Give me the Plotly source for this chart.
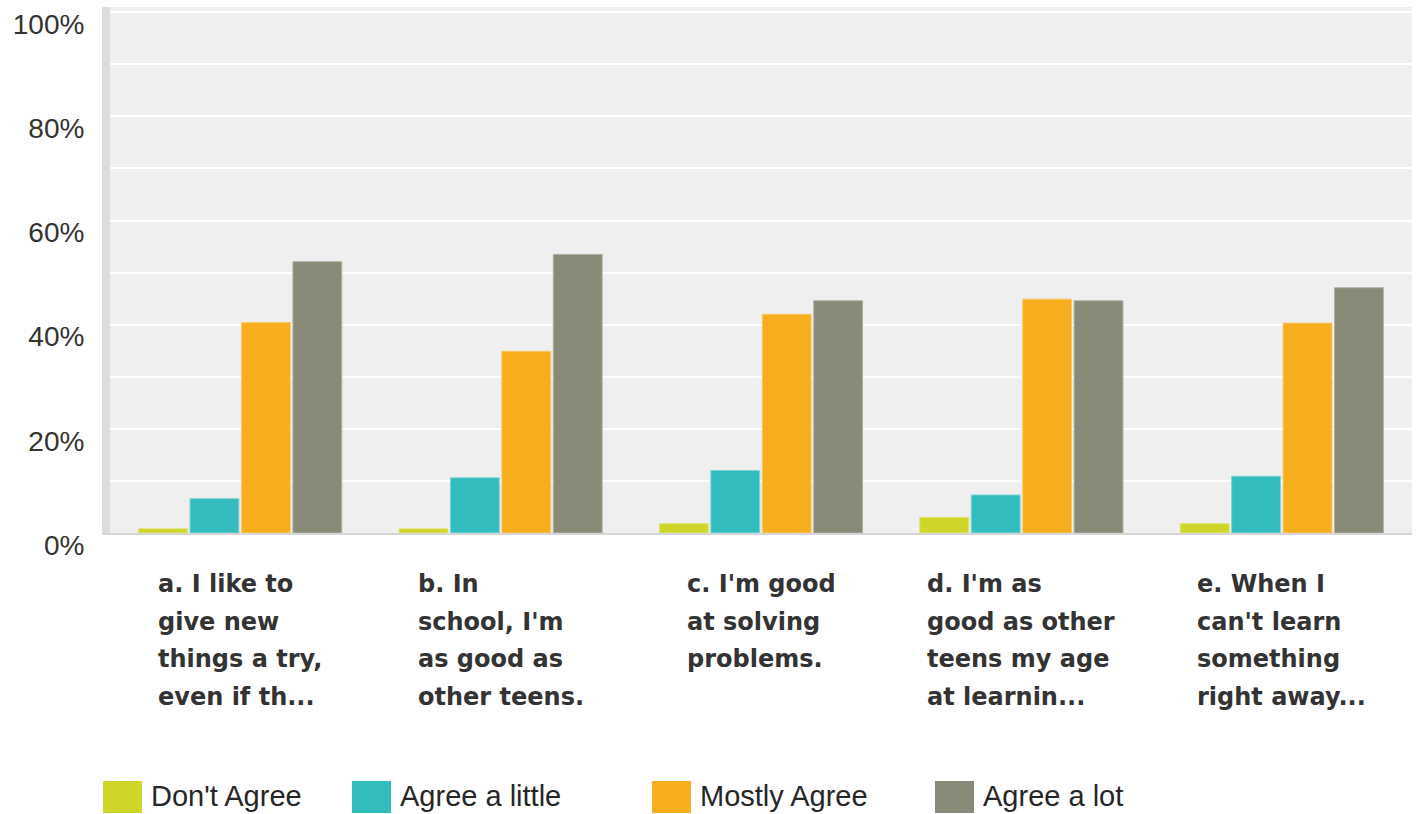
import plotly.graph_objects as go

categories = ["a", "b", "c", "d", "e"]
category_labels = [
    ["a. I like to", "give new", "things a try,", "even if th..."],
    ["b. In", "school, I'm", "as good as", "other teens."],
    ["c. I'm good", "at solving", "problems."],
    ["d. I'm as", "good as other", "teens my age", "at learnin..."],
    ["e. When I", "can't learn", "something", "right away..."],
]
series_names = ["Don't Agree", "Agree a little", "Mostly Agree", "Agree a lot"]
dont_agree = [0.8, 0.8, 1.8, 3.0, 1.8]
agree_little = [6.6, 10.6, 12.0, 7.3, 10.9]
mostly_agree = [40.4, 34.9, 42.0, 44.9, 40.3]
agree_lot = [52.1, 53.5, 44.6, 44.6, 47.1]
y_ticks = [0, 20, 40, 60, 80, 100]

series_values = [dont_agree, agree_little, mostly_agree, agree_lot]
colors = ["#CED629", "#33BCBE", "#F6AE1E", "#8A8A78"]
line_colors = ["#DEE36F", "#7DD3D5", "#F9C867", "#B0B0A2"]

W, H = 1420, 814
ML, MR, MT, MB = 110, 8, 7, 281
PW, PH = W - ML - MR, H - MT - MB


def px_x(px):
    return (px - ML) / PW


def px_y(py):
    return (H - MB - py) / PH


fig = go.Figure()
for name, vals, c, lc in zip(series_names, series_values, colors, line_colors):
    fig.add_trace(go.Bar(
        x=categories, y=vals, name=name, showlegend=False,
        marker=dict(color=c, line=dict(color=lc, width=1)),
        hoverinfo="skip",
    ))

annotations = []
for cat, lines in zip(categories, category_labels):
    txt = "<br>".join(f'<span style="font-size:24px">{ln}</span>' for ln in lines)
    annotations.append(dict(
        x=cat, xref="x", y=0, yref="y", yanchor="top", xanchor="center",
        yshift=-35, align="left", showarrow=False, text=txt,
        font=dict(family="DejaVu Sans", size=29, color="#333333", weight="bold"),
    ))

# legend drawn as swatches + labels
shapes = []
legend_left = [103, 352, 652, 935]
for name, c, lx in zip(series_names, colors, legend_left):
    shapes.append(dict(
        type="rect", xref="paper", yref="paper",
        x0=px_x(lx), x1=px_x(lx + 39), y0=px_y(813), y1=px_y(781),
        fillcolor=c, line=dict(width=0), layer="above",
    ))
    annotations.append(dict(
        x=px_x(lx + 46), y=px_y(796), xref="paper", yref="paper",
        xanchor="left", yanchor="middle", showarrow=False, text=name,
        font=dict(family="Liberation Sans, Arial, sans-serif", size=29, color="#262626"),
    ))

fig.update_layout(
    width=W, height=H,
    margin=dict(l=ML, r=MR, t=MT, b=MB, pad=0),
    paper_bgcolor="white", plot_bgcolor="#EFEFEF",
    barmode="group", bargap=0.21, bargroupgap=0.05,
    font=dict(family="Liberation Sans, Arial, sans-serif", size=28, color="#333333"),
    showlegend=False,
    annotations=annotations,
    shapes=shapes,
)
fig.update_xaxes(
    showticklabels=False, ticks="", showgrid=False,
    showline=True, linecolor="#D6D6D6", linewidth=2,
    fixedrange=True,
)
fig.update_yaxes(
    range=[0, 101], tickvals=y_ticks, ticktext=[f"{v}%" for v in y_ticks],
    ticklabelposition="outside", ticklabelshift=12, ticks="",
    showgrid=True, gridcolor="white", gridwidth=2,
    minor=dict(dtick=10, tick0=0, showgrid=True, gridcolor="white", gridwidth=2),
    showline=True, linecolor="#DDDDDD", linewidth=8,
    zeroline=False, ticklabelstandoff=12,
    tickfont=dict(size=28, color="#333333"),
    fixedrange=True,
)

fig.write_html("out.html", config={"displayModeBar": False},
               post_script="document.body.style.margin='0';document.body.style.overflow='hidden';")
